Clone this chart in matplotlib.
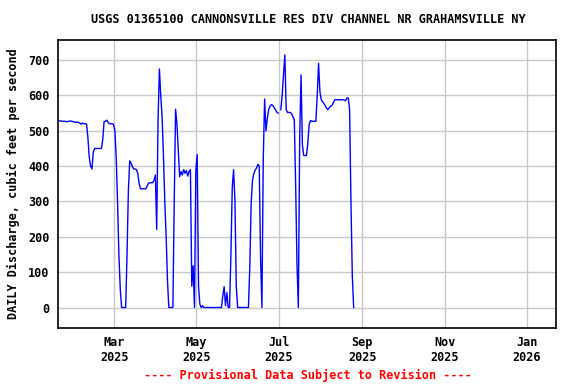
#!/usr/bin/env python3
" USGS daily discharge, Cannonsville Res Div Channel "
import numpy as np
import pandas as pd
import matplotlib
matplotlib.use('Agg')
import matplotlib.pyplot as plt
import matplotlib.dates as mdates

# daily mean discharge (cfs), starting 2025-01-19
flow = [528, 528, 527, 527, 527, 526, 526, 527, 528, 527, 526, 525, 524, 525,
        524, 522, 519, 522, 520, 520, 519,
        480, 426, 400, 392, 440, 450, 450, 450, 450, 450, 450,
        475, 526, 527, 530, 524, 520, 520, 520, 518,
        500, 423, 296, 146, 52, 0, 0, 0, 0,
        150, 330, 415, 409, 398, 392, 392, 390, 379, 350,
        336, 336, 336, 336, 336, 345, 352, 353, 353, 353, 360, 375,
        221, 530, 675, 600, 540, 430, 300, 202, 75, 0, 0, 0, 0,
        300, 561, 520, 447, 370, 385, 375, 390, 380, 388, 372, 385, 390,
        60, 118, 0, 386, 433, 61,
        9, 0, 5, 0, 0, 0, 0, 0, 0, 0, 0, 0, 0, 0, 0, 0, 0,
        33, 59, 5, 42, 0, 0,
        146, 339, 390, 300, 60, 0,
        0, 0, 0, 0, 0, 0, 0, 0,
        113, 292, 360, 379, 389, 395, 405, 400, 140, 0, 420, 590,
        500, 535, 560, 570, 574, 572, 566, 560, 553, 550,
        np.nan,
        560, 600, 660, 715, 560,
        552, 552, 552, 548, 540, 531,
        348, 122, 0, 480, 658, 460,
        430, 430, 430, 464,
        517, 529, 527, 527, 527, 527,
        600, 691, 610, 588, 582, 577, 570, 564, 560,
        566, 570, 572, 580, 588, 588, 588, 588, 588, 588, 588, 587, 585,
        593, 593, 560, 300, 90, 0]
dates = pd.date_range('2025-01-19 12:00', periods=len(flow), freq='D')

tick_dates = pd.to_datetime(['2025-03-01', '2025-05-01', '2025-07-01',
                             '2025-09-01', '2025-11-01', '2026-01-01'])
y_ticks = [0, 100, 200, 300, 400, 500, 600, 700]

mono = 'DejaVu Sans Mono'
fsize = 8.5

fig = plt.figure(figsize=(5.76, 3.84), dpi=100)
ax = fig.add_axes([58 / 576, 56 / 384, 498 / 576, 288 / 384])

ax.plot(dates, flow, color='#0000ff', linewidth=1)

ax.set_xlim(pd.Timestamp('2025-01-18 08:00'), pd.Timestamp('2026-01-22 12:00'))
ax.set_ylim(-58, 757)
ax.set_xticks(tick_dates)
ax.xaxis.set_major_formatter(mdates.DateFormatter('%b\n%Y'))
ax.set_yticks(y_ticks)

ax.grid(True, color='#c8c8c8', linewidth=1)
ax.set_axisbelow(True)
for s in ax.spines.values():
    s.set_linewidth(1.2)
    s.set_color('black')
ax.tick_params(length=0, pad=6)
for lab in ax.get_xticklabels() + ax.get_yticklabels():
    lab.set_fontfamily(mono)
    lab.set_fontweight('bold')
    lab.set_fontsize(fsize)

ax.set_ylabel('DAILY Discharge, cubic feet per second', fontfamily=mono,
              fontweight='bold', fontsize=fsize, labelpad=6)
fig.text(0.5347, 0.948, 'USGS 01365100 CANNONSVILLE RES DIV CHANNEL NR GRAHAMSVILLE NY',
         ha='center', va='center', fontfamily=mono, fontweight='bold', fontsize=fsize)
fig.text(0.5347, 0.023, '---- Provisional Data Subject to Revision ----',
         ha='center', va='center', fontfamily=mono, fontweight='bold',
         fontsize=fsize, color='red')

fig.savefig('out.png', dpi=100)
